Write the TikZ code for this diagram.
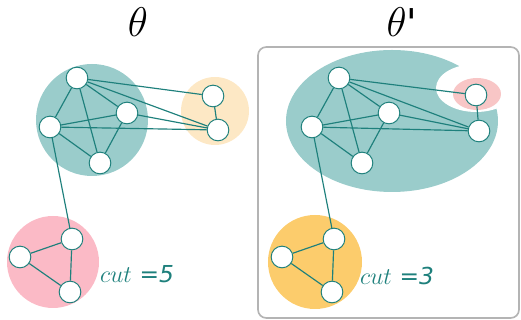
\documentclass[tikz,border=0pt]{standalone}
\usepackage{fontspec}
\newfontfamily\cutfont{DejaVu Sans}
\usetikzlibrary{positioning}
\definecolor{clTeal}{RGB}{154,204,203}
\definecolor{edgeTeal}{RGB}{30,128,124}
\definecolor{clCream}{RGB}{253,232,197}
\definecolor{clPink}{RGB}{251,186,198}
\definecolor{clGold}{RGB}{252,204,108}
\definecolor{clRose}{RGB}{248,198,198}
\definecolor{boxGray}{RGB}{180,180,180}

\begin{document}
\begin{tikzpicture}[
      x=0.6pt, y=-0.6pt,
      vtx/.style={circle, draw=edgeTeal, fill=white, line width=0.6pt, minimum size=13pt, inner sep=0pt},
      edge/.style={draw=edgeTeal, line width=0.7pt},
      cutlabel/.style={text=edgeTeal, font=\fontsize{14}{16}\selectfont},
      title/.style={font=\fontsize{23}{26}\selectfont}
    ]
    \useasboundingbox (0,0) rectangle (521,320);
    \draw[boxGray, line width=1pt, rounded corners=5pt] (258,47) rectangle (519,318);
    % clusters of theta
    \fill[clTeal] (92,120) circle (56);
    \fill[clCream] (215,111) circle (34);
    \fill[clPink] (53,262) circle (46);
    % clusters of theta'
    \fill[clTeal] (392,121) ellipse (106 and 71);
    \fill[white] (476,88) ellipse (40 and 24);
    \fill[clRose] (477,94) ellipse (24 and 16);
    \fill[clGold] (315,262) circle (47);
    \foreach \n/\x/\y in {a1/77/78, a2/50/127, a3/127/113, a4/100/163, b1/213/96, b2/218/130,
        c1/72/239, c2/20/257, c3/70/292, ra1/339/78, ra2/312/127, ra3/389/113, ra4/362/163,
        rb1/476/95, rb2/479/131, rc1/334/239, rc2/282/257, rc3/332/292} {
      \node[vtx] (\n) at (\x,\y) {};
    }
    \foreach \p in {, r} {
      \foreach \u/\v in {a1/a2, a1/a3, a1/a4, a2/a3, a2/a4, a3/a4, a1/b1, a1/b2, a3/b2, a2/b2,
          b1/b2, a2/c1, c1/c2, c1/c3, c2/c3} {
        \draw[edge] (\p\u) -- (\p\v);
      }
    }
    \node[title] (thetaL) at (138,22) {$\theta$};
    \node[title] (thetaR) at (402,22) {$\theta${\cutfont'}};
    \node[cutlabel] (cutL) at (137,274) {$cut$ {\cutfont\itshape =5}};
    \node[cutlabel] (cutR) at (397,276) {$cut$ {\cutfont\itshape =3}};
  \end{tikzpicture}
\end{document}
